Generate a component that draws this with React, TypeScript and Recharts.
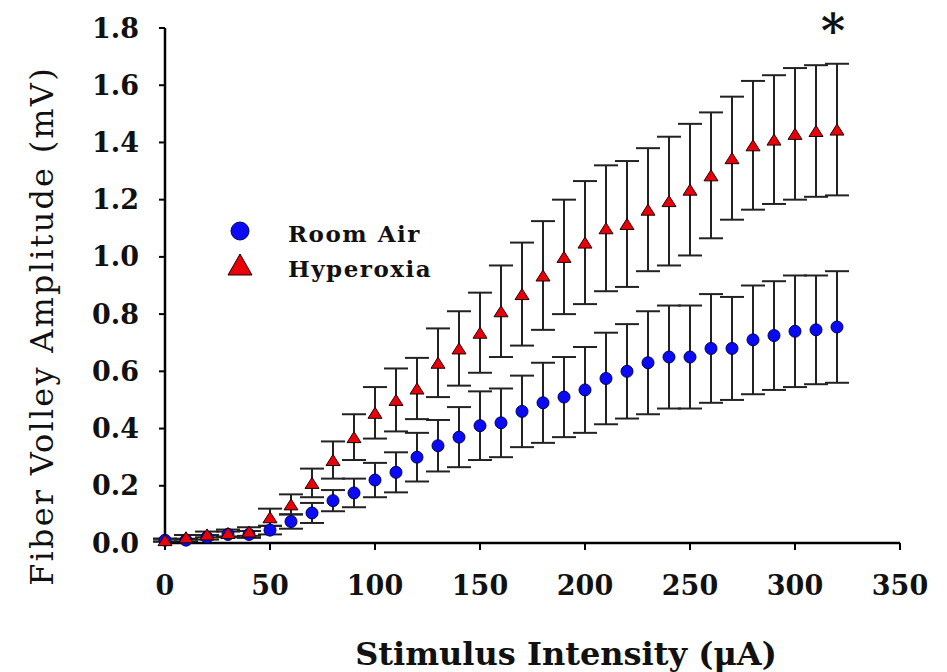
import React from 'react';
import { ScatterChart, Scatter, XAxis, YAxis, ErrorBar, Label } from 'recharts';

const stimulus = [0, 10, 20, 30, 40, 50, 60, 70, 80, 90, 100, 110, 120, 130, 140, 150, 160, 170, 180, 190, 200, 210, 220, 230, 240, 250, 260, 270, 280, 290, 300, 310, 320];

const roomAirMean = [0.01, 0.01, 0.02, 0.03, 0.03, 0.045, 0.075, 0.105, 0.148, 0.175, 0.22, 0.247, 0.3, 0.34, 0.37, 0.41, 0.42, 0.46, 0.49, 0.51, 0.535, 0.575, 0.6, 0.63, 0.65, 0.65, 0.68, 0.68, 0.71, 0.725, 0.74, 0.745, 0.755];
const roomAirSem = [0.005, 0.005, 0.008, 0.01, 0.012, 0.015, 0.025, 0.035, 0.037, 0.05, 0.06, 0.07, 0.085, 0.09, 0.105, 0.12, 0.12, 0.125, 0.14, 0.14, 0.15, 0.16, 0.165, 0.18, 0.18, 0.18, 0.19, 0.18, 0.19, 0.19, 0.195, 0.19, 0.195];

const hyperoxiaMean = [0.01, 0.02, 0.03, 0.035, 0.04, 0.09, 0.135, 0.21, 0.29, 0.37, 0.455, 0.5, 0.54, 0.63, 0.68, 0.735, 0.81, 0.87, 0.935, 1.0, 1.05, 1.1, 1.115, 1.165, 1.195, 1.235, 1.285, 1.345, 1.39, 1.41, 1.43, 1.44, 1.445];
const hyperoxiaSem = [0.005, 0.008, 0.01, 0.012, 0.015, 0.03, 0.035, 0.05, 0.065, 0.08, 0.09, 0.11, 0.107, 0.12, 0.13, 0.14, 0.16, 0.18, 0.19, 0.2, 0.215, 0.22, 0.22, 0.215, 0.225, 0.23, 0.22, 0.215, 0.225, 0.225, 0.23, 0.23, 0.23];

const xTicks = [0, 50, 100, 150, 200, 250, 300, 350];
const yTicks = [0, 0.2, 0.4, 0.6, 0.8, 1.0, 1.2, 1.4, 1.6, 1.8];

const roomAirData = stimulus.map((x, i) => ({ x, y: roomAirMean[i], err: roomAirSem[i] }));
const hyperoxiaData = stimulus.map((x, i) => ({ x, y: hyperoxiaMean[i], err: hyperoxiaSem[i] }));

const SERIF = '"DejaVu Serif", "Liberation Serif", serif';
const BLUE = '#0a0af5';
const RED = '#e8000a';

// markers
const BlueDot = (props: any) => {
    const { cx, cy } = props;
    return <circle cx={cx} cy={cy} r={6} fill={BLUE} stroke="#00005a" strokeWidth={1} />;
};

const RedTriangle = (props: any) => {
    const { cx, cy } = props;
    const w = 14;
    const h = 11;
    const pts = `${cx - w / 2},${cy + h / 2} ${cx + w / 2},${cy + h / 2} ${cx},${cy - h / 2}`;
    return <polygon points={pts} fill={RED} stroke="#200000" strokeWidth={1} />;
};

const tickStyle = { fill: '#111', fontSize: 27, fontWeight: 'bold', fontFamily: SERIF };

export default function App() {
    return (
        <div style={{ position: 'absolute', left: 0, top: 0, width: 947, height: 672, background: '#fff' }}>
            <ScatterChart width={947} height={672} margin={{ top: 28, right: 47, left: 0, bottom: 0 }}>
                <XAxis
                    type="number"
                    dataKey="x"
                    domain={[0, 350]}
                    ticks={xTicks}
                    height={129}
                    tickSize={7}
                    tickMargin={26}
                    tick={tickStyle}
                    axisLine={{ stroke: '#000', strokeWidth: 2.5 }}
                    tickLine={{ stroke: '#000', strokeWidth: 2 }}
                >
                    <Label
                        content={() => (
                            <text x={566} y={665} textAnchor="middle" fontFamily={SERIF} fontWeight="bold" fontSize={32} fill="#111">
                                Stimulus Intensity (μA)
                            </text>
                        )}
                    />
                </XAxis>
                <YAxis
                    type="number"
                    dataKey="y"
                    domain={[0, 1.8]}
                    ticks={yTicks}
                    width={165}
                    tickSize={6}
                    tickMargin={20}
                    tick={tickStyle}
                    tickFormatter={(v: number) => v.toFixed(1)}
                    axisLine={{ stroke: '#000', strokeWidth: 2.5 }}
                    tickLine={{ stroke: '#000', strokeWidth: 2 }}
                >
                    <Label
                        content={() => (
                            <text
                                x={42}
                                y={326}
                                transform="rotate(-90, 42, 326)"
                                textAnchor="middle"
                                dominantBaseline="central"
                                fontFamily={SERIF}
                                fontSize={32}
                                letterSpacing={2.2}
                                fill="#111"
                            >
                                Fiber Volley Amplitude (mV)
                            </text>
                        )}
                    />
                </YAxis>

                {/* Room Air - blue circles */}
                <Scatter name="Room Air" data={roomAirData} shape={<BlueDot />} isAnimationActive={false}>
                    <ErrorBar dataKey="err" direction="y" width={12} stroke="#222" strokeWidth={2} isAnimationActive={false} />
                </Scatter>

                {/* Hyperoxia - red triangles */}
                <Scatter name="Hyperoxia" data={hyperoxiaData} shape={<RedTriangle />} isAnimationActive={false}>
                    <ErrorBar dataKey="err" direction="y" width={12} stroke="#222" strokeWidth={2} isAnimationActive={false} />
                </Scatter>
            </ScatterChart>

            {/* legend and significance marker */}
            <svg width={947} height={672} style={{ position: 'absolute', left: 0, top: 0, pointerEvents: 'none' }}>
                <circle cx={240} cy={231} r={9} fill={BLUE} stroke="#00005a" strokeWidth={1} />
                <polygon points="228,275 252,275 240,254" fill={RED} stroke="#200000" strokeWidth={1} />
                <text x={288} y={242} fontFamily={SERIF} fontWeight="bold" fontSize={23} letterSpacing={1.5} fill="#111">
                    Room Air
                </text>
                <text x={288} y={277} fontFamily={SERIF} fontWeight="bold" fontSize={23} letterSpacing={1.5} fill="#111">
                    Hyperoxia
                </text>
                <text x={833} y={47} textAnchor="middle" fontFamily={SERIF} fontWeight="bold" fontSize={46} fill="#111">*</text>
            </svg>
        </div>
    );
}
